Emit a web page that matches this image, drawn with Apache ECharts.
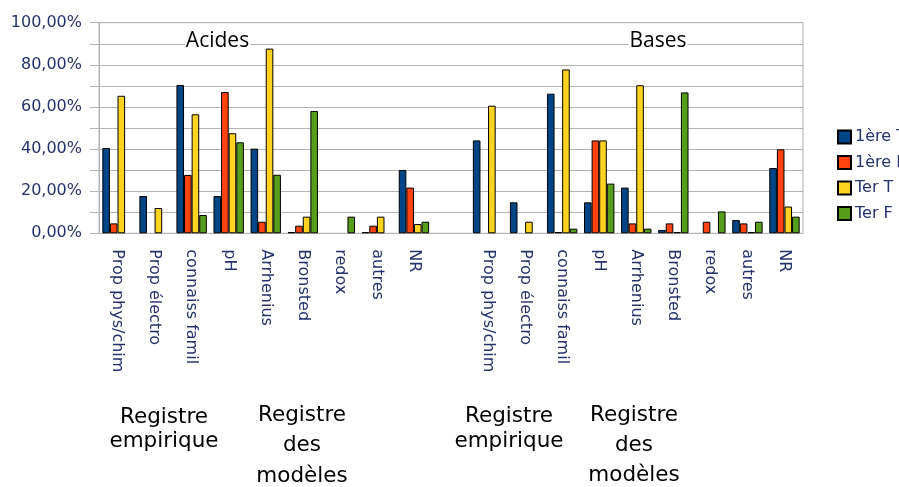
<!DOCTYPE html>
<html>
<head>
<meta charset="utf-8">
<script src="https://cdn.jsdelivr.net/npm/echarts@6/dist/echarts.min.js"></script>
<style>
  html, body { margin: 0; padding: 0; background: #ffffff; }
  #chart { width: 899px; height: 487px; }
</style>
</head>
<body>
<div id="chart"></div>
<script>
// Categories shared by both groups (acids, then bases)
const categories = ['Prop phys/chim', 'Prop électro', 'connaiss famil', 'pH', 'Arrhenius', 'Bronsted', 'redox', 'autres', 'NR'];
const seriesNames = ['1ère T', '1ère F', 'Ter T', 'Ter F'];

// Percentages of answers – Acides
const acides1reT = [40.5, 17.7, 70.4, 17.7, 40.2, 0.6, 0, 0.6, 30.1];
const acides1reF = [4.7, 0, 27.7, 67.1, 5.5, 3.6, 0, 3.6, 21.7];
const acidesTerT = [65.3, 12.0, 56.5, 47.5, 87.7, 7.9, 0, 7.9, 4.4];
const acidesTerF = [0, 0, 8.7, 43.2, 27.8, 58.1, 7.9, 0, 5.5];

// Percentages of answers – Bases
const bases1reT = [44.1, 14.7, 66.3, 14.7, 21.7, 1.6, 0, 6.3, 31.0];
const bases1reF = [0, 0, 0.6, 44.1, 4.7, 4.7, 5.5, 4.7, 39.9];
const basesTerT = [60.6, 5.5, 77.8, 44.1, 70.3, 0.6, 0, 0.6, 12.7];
const basesTerF = [0, 0, 2.2, 23.6, 2.2, 66.9, 10.4, 5.5, 7.9];

const colors = ['#004586', '#ff420e', '#ffd320', '#579d1c'];
const yMax = 100, yStep = 10;

// x axis: acid categories, one empty slot, base categories
const xLabels = categories.concat([''], categories);
const joinGroups = (a, b) => a.concat([null], b).map(v => (v === 0 ? null : v));
const seriesData = [
  joinGroups(acides1reT, bases1reT),
  joinGroups(acides1reF, bases1reF),
  joinGroups(acidesTerT, basesTerT),
  joinGroups(acidesTerF, basesTerF)
];

const navyText = '#26336b';
const gridGrey = '#b3b3b3';

const chart = echarts.init(document.getElementById('chart'), null, { renderer: 'canvas' });

const textEl = (text, x, y, font, size, bg) => ({
  type: 'text',
  z: 100,
  style: {
    text: text,
    x: x,
    y: y,
    align: 'center',
    verticalAlign: 'middle',
    fontFamily: font,
    fontSize: size,
    fill: '#000000',
    backgroundColor: bg || 'transparent',
    padding: bg ? [0, 1] : 0
  }
});

chart.setOption({
  animation: false,
  color: colors,
  grid: {
    left: 99, right: 96, top: 22.7, bottom: 253.7,
    show: true, borderColor: gridGrey, borderWidth: 1,
    containLabel: false
  },
  legend: {
    orient: 'vertical',
    left: 832,
    top: 124,
    itemWidth: 13,
    itemHeight: 13,
    itemGap: 9.5,
    icon: 'rect',
    textStyle: { fontFamily: 'DejaVu Sans', fontSize: 16, color: navyText, padding: [0, 0, 0, -1] },
    data: seriesNames
  },
  xAxis: {
    type: 'category',
    data: xLabels,
    axisLine: { lineStyle: { color: gridGrey, width: 1 } },
    axisTick: { alignWithLabel: true, interval: 0, length: 10, lineStyle: { color: gridGrey } },
    axisLabel: {
      interval: 0,
      rotate: -90,
      margin: 16,
      fontFamily: 'DejaVu Sans',
      fontSize: 16,
      color: navyText
    },
    splitLine: { show: false }
  },
  yAxis: {
    type: 'value',
    min: 0,
    max: yMax,
    interval: yStep,
    axisLine: { show: true, lineStyle: { color: gridGrey } },
    axisTick: { show: true, length: 9, lineStyle: { color: gridGrey } },
    splitLine: { lineStyle: { color: gridGrey, width: 1 } },
    axisLabel: {
      margin: 17,
      fontFamily: 'DejaVu Sans',
      fontSize: 16,
      color: navyText,
      formatter: v => (v % 20 === 0 ? v.toFixed(2).replace('.', ',') + '%' : '')
    }
  },
  series: seriesNames.map((name, i) => ({
    name: name,
    type: 'bar',
    data: seriesData[i],
    barGap: '0%',
    barCategoryGap: '18%',
    itemStyle: { color: colors[i], borderColor: '#000000', borderWidth: 1 }
  })),
  graphic: [
    textEl('Acides', 217.5, 41, 'Open Sans', 21, '#ffffff'),
    textEl('Bases', 658, 41, 'Open Sans', 21, '#ffffff'),
    textEl('Registre', 164, 417, 'DejaVu Sans', 21.5),
    textEl('empirique', 164, 441.5, 'DejaVu Sans', 21.5),
    textEl('Registre', 302, 415, 'DejaVu Sans', 21.5),
    textEl('des', 302, 445.5, 'DejaVu Sans', 21.5),
    textEl('modèles', 302, 476.5, 'DejaVu Sans', 21.5),
    textEl('Registre', 509, 416, 'DejaVu Sans', 21.5),
    textEl('empirique', 509, 441, 'DejaVu Sans', 21.5),
    textEl('Registre', 634, 415, 'DejaVu Sans', 21.5),
    textEl('des', 634, 445, 'DejaVu Sans', 21.5),
    textEl('modèles', 634, 475.5, 'DejaVu Sans', 21.5)
  ]
});
</script>
</body>
</html>
